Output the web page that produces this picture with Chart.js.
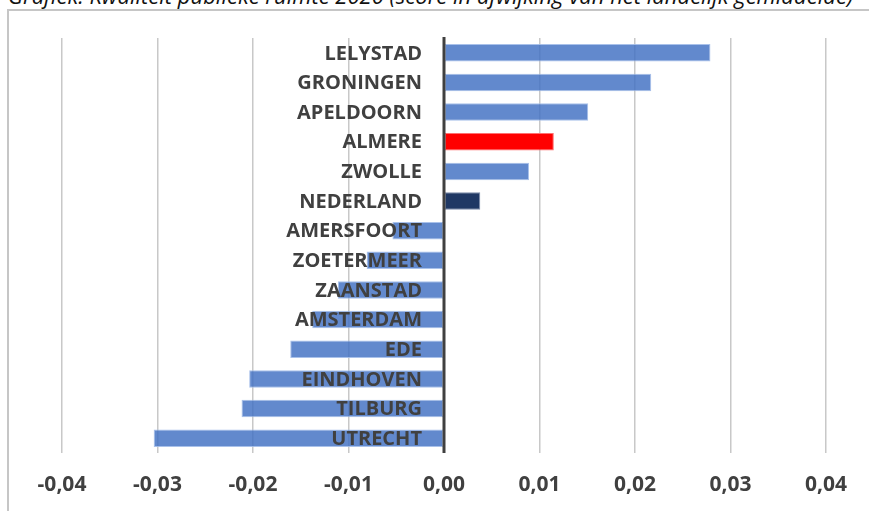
<!DOCTYPE html>
<html>
<head>
<meta charset="utf-8">
<script src="https://cdn.jsdelivr.net/npm/chart.js@4.4.1/dist/chart.umd.min.js"></script>
<style>
  html, body { margin: 0; padding: 0; background: #fff; overflow: hidden; }
  #wrap { position: relative; width: 869px; height: 511px; }
  #title {
    position: absolute; left: 8px; top: -20px; white-space: nowrap;
    font: italic 22px "Open Sans", sans-serif; color: #111;
  }
  #frame {
    position: absolute; left: 7px; top: 9px; width: 900px; height: 600px;
    border-left: 2px solid #c6c6c6; border-top: 2px solid #c6c6c6;
  }
  #chart-box { position: absolute; left: 0; top: 0; width: 869px; height: 511px; }
</style>
</head>
<body>
<div id="wrap">
  <div id="title">Grafiek: Kwaliteit publieke ruimte 2020 (score in afwijking van het landelijk gemiddelde)</div>
  <div id="frame"></div>
  <div id="chart-box"><canvas id="chart-quality"></canvas></div>
</div>
<script>
const cities = [
  'LELYSTAD', 'GRONINGEN', 'APELDOORN', 'ALMERE', 'ZWOLLE', 'NEDERLAND', 'AMERSFOORT',
  'ZOETERMEER', 'ZAANSTAD', 'AMSTERDAM', 'EDE', 'EINDHOVEN', 'TILBURG', 'UTRECHT',
];
const scores = [
  0.0279, 0.0217, 0.0151, 0.0115, 0.0089, 0.0038, -0.0054,
  -0.0081, -0.0111, -0.0138, -0.0161, -0.0204, -0.0212, -0.0304,
];
const axisTicks = [-0.04, -0.03, -0.02, -0.01, 0, 0.01, 0.02, 0.03, 0.04];

// slightly see-through fills, like the original, so grid lines show faintly
const BLUE = 'rgba(68, 114, 196, 0.84)';
const BLUE_EDGE = 'rgba(160, 186, 232, 0.9)';

function barColor(city) {
  if (city === 'ALMERE') return '#ff0000';
  if (city === 'NEDERLAND') return '#1f3864';
  return BLUE;
}

function barEdge(city) {
  if (city === 'ALMERE') return '#ff7070';
  if (city === 'NEDERLAND') return '#7d8cab';
  return BLUE_EDGE;
}

function formatTick(value) {
  return value.toFixed(2).replace('.', ',');
}

const cityLabels = {
  id: 'cityLabels',
  afterDatasetsDraw(chart) {
    const { ctx, chartArea } = chart;
    const x = chart.scales.x;
    const y = chart.scales.y;
    const zero = x.getPixelForValue(0);

    ctx.save();
    ctx.strokeStyle = '#404040';
    ctx.lineWidth = 3;
    ctx.beginPath();
    ctx.moveTo(zero, chartArea.top - 1);
    ctx.lineTo(zero, chartArea.bottom);
    ctx.stroke();

    ctx.font = 'bold 20px "Open Sans", sans-serif';
    ctx.fillStyle = '#404040';
    ctx.textAlign = 'right';
    ctx.textBaseline = 'middle';
    cities.forEach((city, i) => {
      ctx.fillText(city, zero - 22, y.getPixelForValue(i) + 1);
    });
    ctx.restore();
  },
};

new Chart(document.getElementById('chart-quality').getContext('2d'), {
  type: 'bar',
  data: {
    labels: cities,
    datasets: [
      {
        data: scores,
        backgroundColor: cities.map(barColor),
        borderColor: cities.map(barEdge),
        borderWidth: 1,
        borderSkipped: false,
        barPercentage: 0.59,
        categoryPercentage: 1,
      },
    ],
  },
  options: {
    indexAxis: 'y',
    responsive: true,
    maintainAspectRatio: false,
    animation: false,
    layout: {
      padding: { top: 38, left: 62, right: 43, bottom: 0 },
    },
    plugins: {
      legend: { display: false },
      tooltip: { enabled: false },
      title: { display: false },
    },
    scales: {
      x: {
        min: axisTicks[0],
        max: axisTicks[axisTicks.length - 1],
        afterBuildTicks(scale) {
          scale.ticks = axisTicks.map((value) => ({ value }));
        },
        afterFit(scale) {
          scale.height = 58;
        },
        border: { display: false },
        grid: {
          color: '#c8c8c8',
          lineWidth: 1.5,
          drawTicks: false,
        },
        ticks: {
          padding: 19,
          color: '#404040',
          font: { family: '"Open Sans", sans-serif', size: 21, weight: 'bold' },
          callback: (value) => formatTick(value),
          maxRotation: 0,
          autoSkip: false,
        },
      },
      y: {
        display: false,
      },
    },
  },
  plugins: [cityLabels],
});
</script>
</body>
</html>
